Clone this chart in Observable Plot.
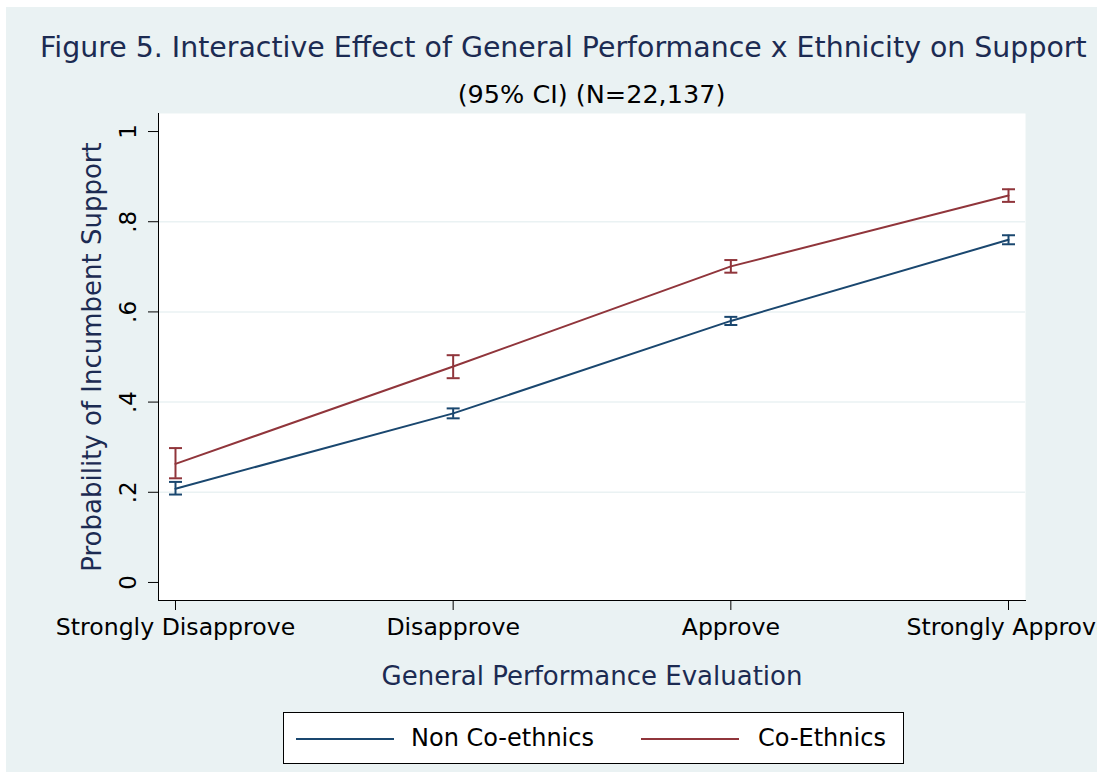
<!DOCTYPE html>
<html>
<head>
<meta charset="utf-8">
<script src="https://cdn.jsdelivr.net/npm/d3@7"></script>
<script src="https://cdn.jsdelivr.net/npm/@observablehq/plot@0.6"></script>
<style>
  html, body { margin: 0; padding: 0; background: #ffffff; overflow: hidden; }
  #page { position: relative; width: 1097px; height: 772px; overflow: hidden; font-family: "DejaVu Sans", sans-serif; }
  #bg { position: absolute; left: 6px; top: 7px; width: 1091px; height: 765px; background: #EAF2F3; }
  #title { position: absolute; left: 40px; top: 34px; font-size: 28.4px; line-height: 1; color: #1c2b52; white-space: nowrap; }
  #subtitle { position: absolute; left: 158px; width: 867px; top: 82px; text-align: center; font-size: 25.5px; line-height: 1; color: #000; white-space: nowrap; }
  #chart { position: absolute; left: 0; top: 113px; }
  #legend { position: absolute; left: 283px; top: 712px; width: 619px; height: 50px; background: #fff; border: 1px solid #000; }
  .lg-line { position: absolute; top: 25px; height: 2px; width: 98px; }
  .lg-text { position: absolute; top: 13px; font-size: 24px; line-height: 1; color: #000; white-space: nowrap; }
</style>
</head>
<body>
<div id="page">
  <div id="bg"></div>
  <div id="title"></div>
  <div id="subtitle"></div>
  <div id="chart"></div>
  <div id="legend"></div>
</div>
<script>
// ---- data ----
const titleText = "Figure 5. Interactive Effect of General Performance x Ethnicity on Support";
const subtitleText = "(95% CI) (N=22,137)";
const xTitle = "General Performance Evaluation";
const yTitle = "Probability of Incumbent Support";
const categories = ["Strongly Disapprove", "Disapprove", "Approve", "Strongly Approve"];
const seriesNames = ["Non Co-ethnics", "Co-Ethnics"];
const seriesColors = ["#1A476F", "#90353B"];
const nonEst = [0.208, 0.375, 0.580, 0.760];
const nonLo  = [0.195, 0.364, 0.571, 0.750];
const nonHi  = [0.223, 0.386, 0.589, 0.770];
const coEst  = [0.263, 0.479, 0.701, 0.858];
const coLo   = [0.231, 0.453, 0.687, 0.844];
const coHi   = [0.298, 0.504, 0.715, 0.872];
const yTicks = [0, 0.2, 0.4, 0.6, 0.8, 1];
const yTickLabels = ["0", ".2", ".4", ".6", ".8", "1"];
const gridTicks = [0.2, 0.4, 0.6, 0.8];

// ---- table ----
const ests = [nonEst, coEst], los = [nonLo, coLo], his = [nonHi, coHi];
const rows = [];
seriesNames.forEach((s, k) => categories.forEach((c, i) =>
  rows.push({series: s, i, est: ests[k][i], lo: los[k][i], hi: his[k][i]})));

const capSymbol = {draw(ctx, size) { const r = Math.sqrt(size / Math.PI); ctx.moveTo(-r, 0); ctx.lineTo(r, 0); }};
const navyText = "#1c2b52";

document.getElementById("title").textContent = titleText;
document.getElementById("subtitle").textContent = subtitleText;

const chart = Plot.plot({
  width: 1097,
  height: 587,
  marginLeft: 158,
  marginRight: 72,
  marginTop: 0,
  marginBottom: 100,
  style: {background: "transparent", fontFamily: "DejaVu Sans", fontSize: "23.6px", color: "#000", overflow: "visible"},
  x: {type: "linear", domain: [-0.0612, categories.length - 1 + 0.0612]},
  y: {domain: [-0.04, 1.04]},
  color: {domain: seriesNames, range: seriesColors},
  marks: [
    Plot.frame({fill: "white", stroke: "none"}),
    Plot.gridY(gridTicks, {stroke: "#EAF2F3", strokeOpacity: 1, strokeWidth: 1.5}),
    Plot.frame({anchor: "left", stroke: "#000", strokeWidth: 1}),
    Plot.frame({anchor: "bottom", stroke: "#000", strokeWidth: 1}),
    Plot.axisY({ticks: yTicks, tickFormat: (d, i) => yTickLabels[i], tickSize: 10, tickRotate: -90, tickPadding: 13, label: null, stroke: "#000", fontSize: 23}),
    Plot.axisX({ticks: d3.range(categories.length), tickFormat: i => categories[i], tickSize: 10, tickPadding: 8, label: null, stroke: "#000"}),
    Plot.line(rows, {x: "i", y: "est", z: "series", stroke: "series", strokeWidth: 2}),
    Plot.ruleX(rows, {x: "i", y1: "lo", y2: "hi", stroke: "series", strokeWidth: 2}),
    Plot.dot(rows, {x: "i", y: "lo", symbol: capSymbol, r: 6.5, stroke: "series", strokeWidth: 2, fill: "none"}),
    Plot.dot(rows, {x: "i", y: "hi", symbol: capSymbol, r: 6.5, stroke: "series", strokeWidth: 2, fill: "none"}),
    Plot.text([yTitle], {text: d => d, frameAnchor: "left", dx: -66, rotate: -90, fill: navyText, fontSize: 26, textAnchor: "middle", lineAnchor: "middle"}),
    Plot.text([xTitle], {text: d => d, frameAnchor: "bottom", dy: 76, fill: navyText, fontSize: 26, textAnchor: "middle", lineAnchor: "middle"})
  ]
});
document.getElementById("chart").appendChild(chart);

// legend
const legend = document.getElementById("legend");
const lgLine = [12, 357], lgText = [127, 474];
seriesNames.forEach((s, k) => {
  const ln = document.createElement("div");
  ln.className = "lg-line"; ln.style.left = lgLine[k] + "px"; ln.style.background = seriesColors[k];
  legend.appendChild(ln);
  const tx = document.createElement("div");
  tx.className = "lg-text"; tx.style.left = lgText[k] + "px"; tx.textContent = s;
  legend.appendChild(tx);
});
</script>
</body>
</html>
